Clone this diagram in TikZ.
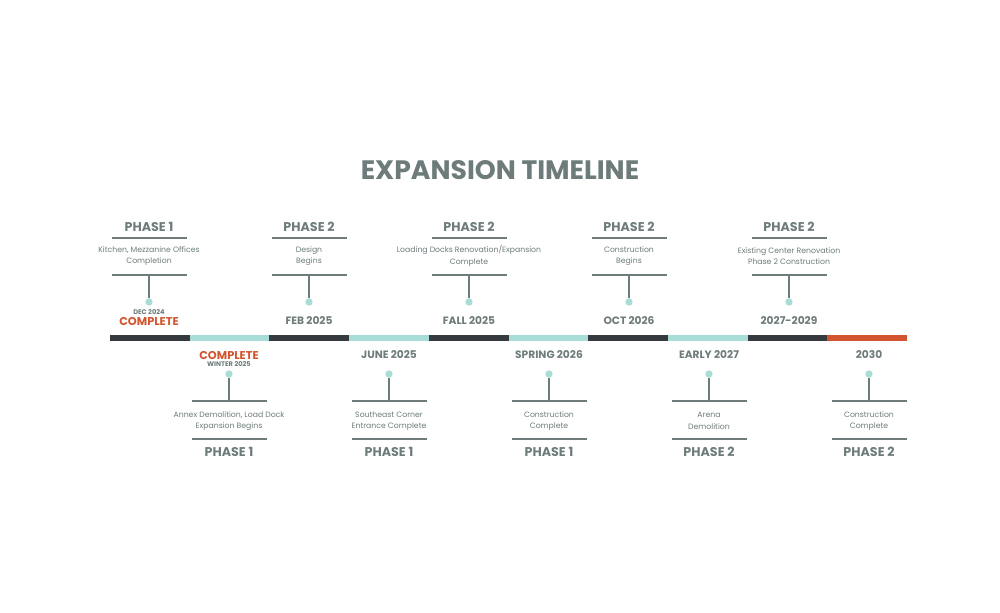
\documentclass[tikz,border=0pt]{standalone}
\usepackage{fontspec}
\setmainfont{Poppins}
\definecolor{tg}{HTML}{6E7B7B}
\definecolor{dk}{HTML}{36393D}
\definecolor{tl}{HTML}{A8DCD6}
\definecolor{og}{HTML}{D2552F}
\begin{document}
\begin{tikzpicture}[x=0.75pt,y=-0.75pt,
 ph/.style={font=\bfseries\fontsize{9.5}{10}\selectfont,text=tg,inner sep=0},
 ds/.style={font=\fontsize{5.8}{8.5}\selectfont,text=tg,align=center,inner sep=0},
 dt/.style={font=\bfseries\fontsize{8}{9}\selectfont,text=tg,inner sep=0},
 sm/.style={font=\bfseries\fontsize{5}{6}\selectfont,text=tg,inner sep=0},
 cp/.style={font=\bfseries\fontsize{8.5}{9}\selectfont,text=og,inner sep=0},
 rl/.style={draw=tg,line width=1.1pt},
 dot/.style={circle,fill=tl,inner sep=0,minimum size=5.5pt}]
\useasboundingbox (0,0) rectangle (1000,612);
\node[font=\bfseries\fontsize{20}{22}\selectfont,text=tg] (title) at (500,170) {EXPANSION TIMELINE};
% bar
\foreach \i/\c in {0/dk,1/tl,2/dk,3/tl,4/dk,5/tl,6/dk,7/tl,8/dk,9/og}{
  \fill[\c] (110+\i*79.7,335) rectangle (110+\i*79.7+79.7,341);}
% upper
\foreach \n/\x/\p/\t in {u1/149/PHASE 1/{Kitchen, Mezzanine Offices\\Completion},u2/309/PHASE 2/{Design\\Begins},u3/469/PHASE 2/{Loading Docks Renovation/Expansion\\Complete},u4/629/PHASE 2/{Construction\\Begins},u5/789/PHASE 2/{Existing Center Renovation\\Phase 2 Construction}}{
  \node[ph] (\n p) at (\x,227) {\p};
  \draw[rl] (\x-37.5,238) -- (\x+37.5,238);
  \node[ds] (\n t) at (\x,256) {\t};
  \draw[rl] (\x-37.5,275) coordinate (\n a) -- (\x+37.5,275);
  \node[dot] (\n d) at (\x,302) {};
  \draw[rl] (\x,275) -- (\n d);
}
\node[sm] (d1) at (149,312) {DEC 2024};
\node[cp] (c1) at (149,321) {COMPLETE};
\foreach \n/\x/\d in {f2/309/FEB 2025,f3/469/FALL 2025,f4/629/OCT 2026,f5/789/2027-2029}{
  \node[dt] (\n) at (\x,321) {\d};}
% lower
\foreach \n/\x/\p/\t in {l1/229/PHASE 1/{Annex Demolition, Load Dock\\Expansion Begins},l2/389/PHASE 1/{Southeast Corner\\Entrance Complete},l3/549/PHASE 1/{Construction\\Complete},l4/709/PHASE 2/{Arena\\Demolition},l5/869/PHASE 2/{Construction\\Complete}}{
  \node[dot] (\n d) at (\x,374) {};
  \draw[rl] (\n d) -- (\x,401);
  \draw[rl] (\x-37.5,401) -- (\x+37.5,401);
  \node[ds] (\n t) at (\x,421) {\t};
  \draw[rl] (\x-37.5,439) -- (\x+37.5,439);
  \node[ph] (\n p) at (\x,452) {\p};
}
\node[cp] (c2) at (229,355) {COMPLETE};
\node[sm] (w2) at (229,364) {WINTER 2025};
\foreach \n/\x/\d in {g2/389/JUNE 2025,g3/549/SPRING 2026,g4/709/EARLY 2027,g5/869/2030}{
  \node[dt] (\n) at (\x,355) {\d};}
\end{tikzpicture}
\end{document}
